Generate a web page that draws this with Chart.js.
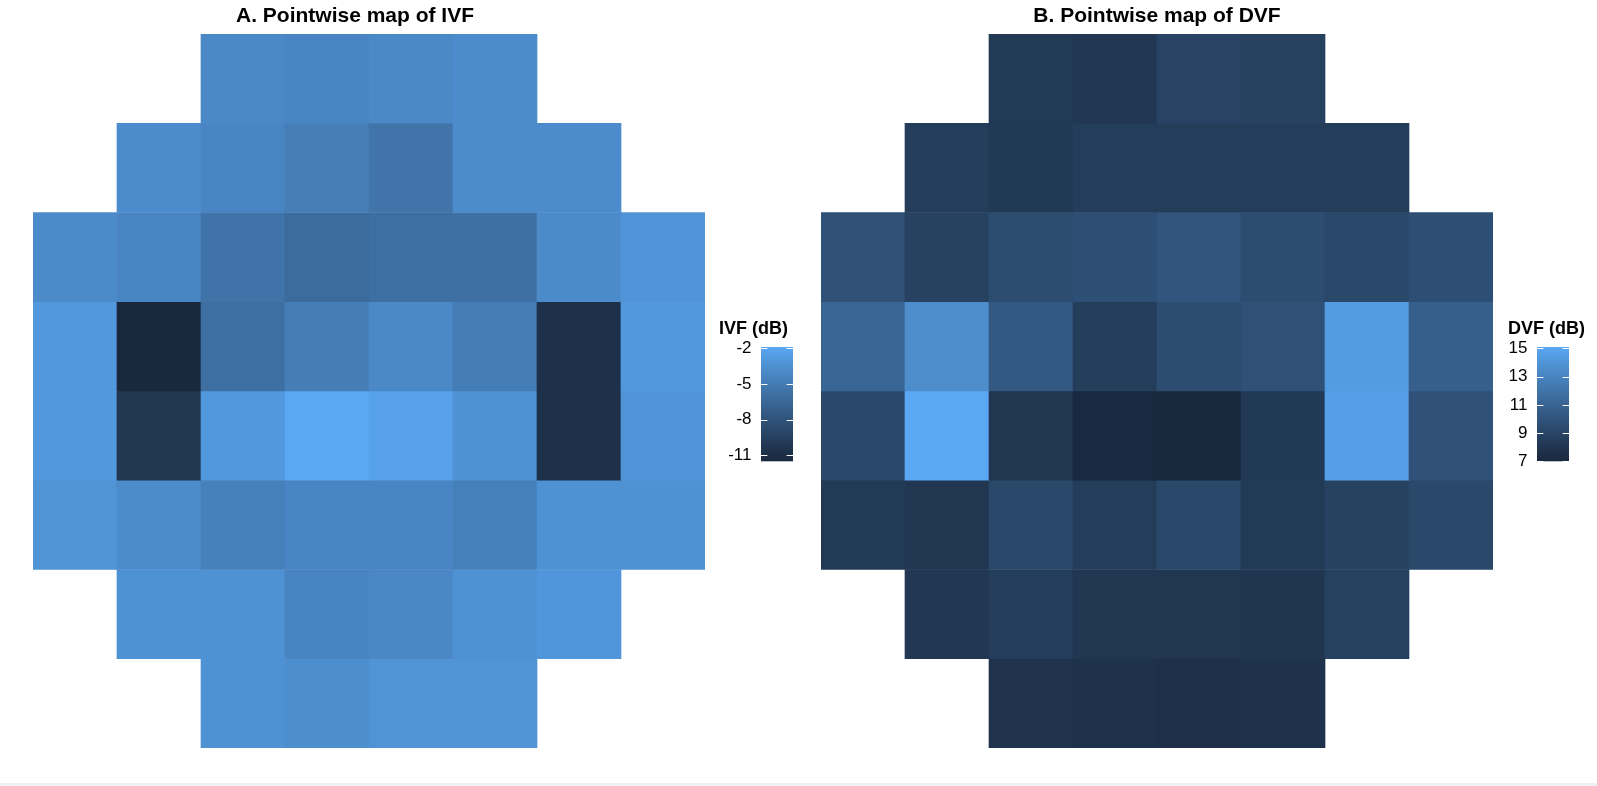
<!DOCTYPE html>
<html>
<head>
<meta charset="utf-8">
<title>Pointwise maps</title>
<script src="https://cdn.jsdelivr.net/npm/chart.js@4.4.1/dist/chart.umd.min.js"></script>
<style>
  html, body { margin: 0; padding: 0; background: #fff; }
  body { width: 1597px; height: 786px; position: relative; overflow: hidden; }
  canvas { position: absolute; }
  #strip { position: absolute; left: 0; top: 783px; width: 1597px; height: 3px; background: #edf0f4; }
</style>
</head>
<body>
<canvas id="mapA"></canvas>
<canvas id="barA"></canvas>
<canvas id="mapB"></canvas>
<canvas id="barB"></canvas>
<div id="strip"></div>
<script>
// 24-2 grid, 8 columns, rows top -> bottom, null = no test point
const columns = ['1', '2', '3', '4', '5', '6', '7', '8'];

const ivfValues = [
  [null, null, -4.1, -4.3, -4.1, -3.8, null, null],
  [null, -3.8, -4.3, -4.8, -5.5, -3.8, -3.8, null],
  [-3.9, -4.3, -5.6, -6.2, -5.9, -5.8, -3.9, -3.2],
  [-3.0, -11.5, -5.9, -4.9, -4.1, -4.9, -10.7, -3.0],
  [-3.0, -10.3, -3.0, -1.9, -2.4, -3.4, -10.7, -3.2],
  [-3.3, -3.8, -4.6, -4.3, -4.3, -4.7, -3.4, -3.4],
  [null, -3.4, -3.4, -4.4, -4.2, -3.4, -3.1, null],
  [null, null, -3.4, -3.7, -3.3, -3.3, null, null]
];

const dvfValues = [
  [null, null, 8.3, 8.1, 8.9, 8.8, null, null],
  [null, 8.5, 8.2, 8.5, 8.5, 8.5, 8.5, null],
  [9.8, 8.8, 9.5, 9.7, 10.1, 9.5, 9.2, 9.7],
  [11.1, 13.5, 10.3, 8.5, 9.5, 9.8, 14.4, 10.7],
  [9.2, 15.1, 8.0, 7.1, 7.0, 8.2, 14.6, 9.8],
  [8.3, 8.0, 9.2, 8.5, 9.2, 8.3, 8.8, 9.2],
  [null, 8.1, 8.5, 8.0, 8.0, 7.9, 8.7, null],
  [null, null, 7.8, 7.7, 7.6, 7.7, null, null]
];

const ivfBreaks = [-2, -5, -8, -11];
const dvfBreaks = [15, 13, 11, 9, 7];

// ramp ends as they look in the picture
const LOW = '#19283D';
const HIGH = '#5AA8F3';

Chart.defaults.font.family = '"Liberation Sans", Arial, Helvetica, sans-serif';
Chart.defaults.color = '#000';

// --- colour ramp in CIELAB (like ggplot's gradient) ---------------------
function toLin(c) { c /= 255; return c <= 0.04045 ? c / 12.92 : Math.pow((c + 0.055) / 1.055, 2.4); }
function toSrgb(c) {
  c = c <= 0.0031308 ? 12.92 * c : 1.055 * Math.pow(c, 1 / 2.4) - 0.055;
  return Math.round(Math.min(1, Math.max(0, c)) * 255);
}
function hexToLab(hex) {
  const r = toLin(parseInt(hex.slice(1, 3), 16));
  const g = toLin(parseInt(hex.slice(3, 5), 16));
  const b = toLin(parseInt(hex.slice(5, 7), 16));
  const X = (0.4124564 * r + 0.3575761 * g + 0.1804375 * b) / 0.95047;
  const Y = 0.2126729 * r + 0.7151522 * g + 0.0721750 * b;
  const Z = (0.0193339 * r + 0.1191920 * g + 0.9503041 * b) / 1.08883;
  const f = t => t > 0.008856 ? Math.cbrt(t) : 7.787 * t + 16 / 116;
  const fx = f(X), fy = f(Y), fz = f(Z);
  return [116 * fy - 16, 500 * (fx - fy), 200 * (fy - fz)];
}
function labToRgb(L, a, b) {
  const fy = (L + 16) / 116, fx = fy + a / 500, fz = fy - b / 200;
  const inv = t => t * t * t > 0.008856 ? t * t * t : (t - 16 / 116) / 7.787;
  const X = inv(fx) * 0.95047, Y = inv(fy), Z = inv(fz) * 1.08883;
  const r = 3.2404542 * X - 1.5371385 * Y - 0.4985314 * Z;
  const g = -0.9692660 * X + 1.8760108 * Y + 0.0415560 * Z;
  const bb = 0.0556434 * X - 0.2040259 * Y + 1.0572252 * Z;
  return 'rgb(' + toSrgb(r) + ',' + toSrgb(g) + ',' + toSrgb(bb) + ')';
}
const labLow = hexToLab(LOW), labHigh = hexToLab(HIGH);
function colourFor(v, lo, hi) {
  const t = (v - lo) / (hi - lo);
  return labToRgb(
    labLow[0] + (labHigh[0] - labLow[0]) * t,
    labLow[1] + (labHigh[1] - labLow[1]) * t,
    labLow[2] + (labHigh[2] - labLow[2]) * t
  );
}

function range(values) {
  const flat = values.flat().filter(v => v !== null);
  return [Math.min(...flat), Math.max(...flat)];
}

function place(id, left, top, width, height) {
  const el = document.getElementById(id);
  el.width = width; el.height = height;
  el.style.left = left + 'px'; el.style.top = top + 'px';
  el.style.width = width + 'px'; el.style.height = height + 'px';
  return el;
}

// empty side axis, only used to hold the plot area off the canvas edge
function spacer(position, w) {
  return {
    type: 'linear', position, display: true,
    grid: { display: false, drawTicks: false }, border: { display: false },
    ticks: { display: false },
    afterFit: s => { s.width = w; }
  };
}

// --- heat map -------------------------------------------------------------
function makeMap(id, left, width, padL, padR, title, values) {
  const [lo, hi] = range(values);
  const datasets = values.map((row, r) => ({
    data: row.map(v => v === null ? null : [r, r + 1]),
    backgroundColor: row.map(v => v === null ? 'rgba(0,0,0,0)' : colourFor(v, lo, hi)),
    borderWidth: 0,
    grouped: false,
    categoryPercentage: 1,
    barPercentage: 1
  }));
  const y = Object.assign(spacer('left', padL), { min: 0, max: 8, reverse: true });
  return new Chart(place(id, left, 0, width, 748), {
    type: 'bar',
    data: { labels: columns, datasets },
    options: {
      responsive: false,
      animation: false,
      events: [],
      layout: { padding: 0 },
      plugins: {
        legend: { display: false },
        tooltip: { enabled: false },
        title: {
          display: true,
          text: title,
          font: { size: 21, weight: 'bold', lineHeight: 1.2 },
          padding: { top: 3.5, bottom: 5.3 }
        }
      },
      scales: {
        x: { display: false },
        y: y,
        y2: spacer('right', padR)
      }
    }
  });
}

// --- colour bar legend ----------------------------------------------------
const colourBar = {
  id: 'colourBar',
  beforeDatasetsDraw(chart, args, opts) {
    const { ctx, chartArea: a } = chart;
    const y = chart.scales.y;
    const lo = opts.lo, hi = opts.hi;
    const top = y.getPixelForValue(hi), bottom = y.getPixelForValue(lo);
    const grad = ctx.createLinearGradient(0, bottom, 0, top);
    for (let i = 0; i <= 24; i++) {
      grad.addColorStop(i / 24, colourFor(lo + (hi - lo) * i / 24, lo, hi));
    }
    ctx.save();
    ctx.fillStyle = grad;
    ctx.fillRect(a.left, top, a.right - a.left, bottom - top);
    const len = (a.right - a.left) / 5;
    ctx.strokeStyle = '#fff';
    ctx.lineWidth = 1;
    opts.breaks.forEach(v => {
      const p = Math.round(y.getPixelForValue(v)) + 0.5;
      ctx.beginPath();
      ctx.moveTo(a.left, p); ctx.lineTo(a.left + len, p);
      ctx.moveTo(a.right - len, p); ctx.lineTo(a.right, p);
      ctx.stroke();
    });
    ctx.fillStyle = '#000';
    ctx.font = 'bold 18px "Liberation Sans", Arial, sans-serif';
    ctx.textBaseline = 'middle';
    ctx.textAlign = 'left';
    ctx.fillText(opts.title, 0, 11);
    ctx.restore();
  }
};

function makeBar(id, left, width, axisW, padR, title, values, breaks) {
  const [lo, hi] = range(values);
  return new Chart(place(id, left, 318, width, 163), {
    type: 'bar',
    data: { labels: [''], datasets: [] },
    options: {
      responsive: false,
      animation: false,
      events: [],
      layout: { padding: { top: 29, bottom: 12, left: 0, right: padR } },
      plugins: {
        legend: { display: false },
        tooltip: { enabled: false },
        colourBar: { lo, hi, breaks, title }
      },
      scales: {
        x: { display: false },
        y: {
          min: lo,
          max: hi,
          afterBuildTicks: s => { s.ticks = breaks.map(v => ({ value: v })); },
          afterFit: s => { s.width = axisW; },
          grid: { display: false, drawTicks: false },
          border: { display: false },
          ticks: { padding: 9.5, color: '#000', font: { size: 17 } }
        }
      }
    },
    plugins: [colourBar]
  });
}

makeMap('mapA', 0, 710, 33, 5, 'A. Pointwise map of IVF', ivfValues);
makeBar('barA', 719, 78, 42, 4, 'IVF (dB)', ivfValues, ivfBreaks);
makeMap('mapB', 821, 672, 0, 0, 'B. Pointwise map of DVF', dvfValues);
makeBar('barB', 1508, 89, 29, 28, 'DVF (dB)', dvfValues, dvfBreaks);
</script>
</body>
</html>
